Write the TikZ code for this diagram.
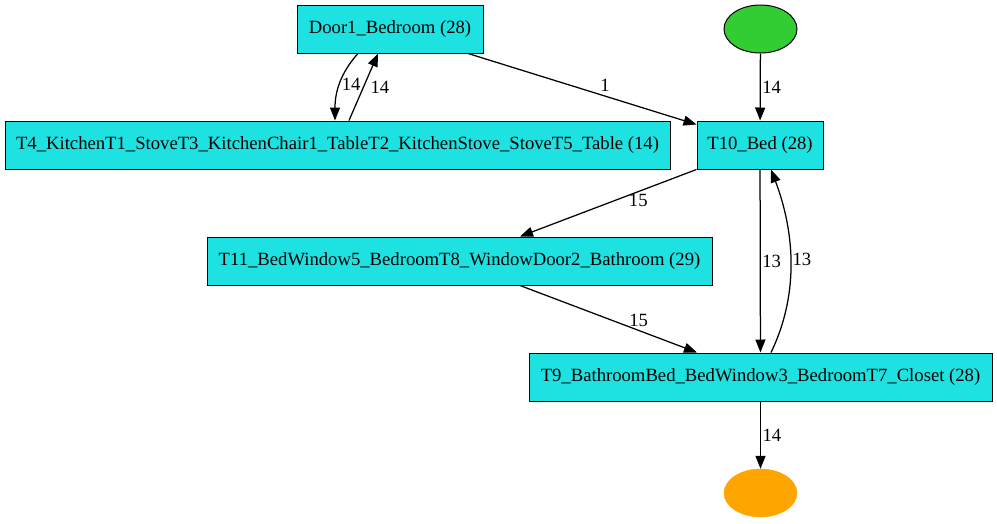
\documentclass[tikz,border=0pt]{standalone}
\usepackage{fontspec}
\setmainfont{Liberation Serif}
\usetikzlibrary{arrows.meta,positioning,shapes.geometric}
\definecolor{stateCyan}{RGB}{30,226,226}
\definecolor{startGreen}{RGB}{50,205,50}
\definecolor{endOrange}{RGB}{255,165,0}
\tikzset{
  state/.style={draw=black, fill=stateCyan, line width=1pt, minimum height=48pt,
                inner sep=0pt, font=\fontsize{18.67}{21}\selectfont},
  terminal/.style={ellipse, minimum width=73pt, minimum height=48pt, inner sep=0pt},
  edge/.style={-{Triangle[length=13pt, width=10pt]}, line width=1.25pt},
  lbl/.style={font=\fontsize{18.67}{21}\selectfont, inner sep=1.5pt}
}
\begin{document}
\begin{tikzpicture}[x=1pt, y=-1pt]
\useasboundingbox (0,0) rectangle (997,523);
% states
\node[state, minimum width=186pt] (door) at (390,29) {Door1\_Bedroom (28)};
\node[state, minimum width=665pt] (kitchen) at (337.5,145)
  {T4\_KitchenT1\_StoveT3\_KitchenChair1\_TableT2\_KitchenStove\_StoveT5\_Table (14)};
\node[state, minimum width=126pt] (bed) at (760,145) {T10\_Bed (28)};
\node[state, minimum width=505pt] (window) at (459.5,261)
  {T11\_BedWindow5\_BedroomT8\_WindowDoor2\_Bathroom (29)};
\node[state, minimum width=463pt] (closet) at (760.5,377)
  {T9\_BathroomBed\_BedWindow3\_BedroomT7\_Closet (28)};
% start and end
\node[terminal, draw=black, line width=1pt, fill=startGreen] (start) at (760.5,29) {};
\node[terminal, draw=endOrange, fill=endOrange] (finish) at (760.5,493) {};
% transitions
\draw[edge] ([xshift=-32pt]door.south) .. controls +(-18,20) and +(0,-28) ..
  node[lbl, right, pos=0.5] {14} ([xshift=-2.5pt]kitchen.north);
\draw[edge] ([xshift=11.5pt]kitchen.north) -- node[lbl, right, pos=0.5, xshift=5pt] {14}
  ([xshift=-12pt]door.south);
\draw[edge] ([xshift=78pt]door.south) -- node[lbl, above, pos=0.6, yshift=2pt] {1}
  ([yshift=-4pt]bed.north west);
\draw[edge] (start) -- node[lbl, right] {14} (bed);
\draw[edge] (bed.south west) -- node[lbl, below, pos=0.33] {15}
  ([xshift=60.5pt]window.north);
\draw[edge] ([xshift=60.5pt]window.south) -- node[lbl, above, pos=0.67, yshift=2pt] {15}
  ([xshift=-63.5pt]closet.north);
\draw[edge] (bed) -- node[lbl, right] {13} (closet);
\draw[edge] ([xshift=10.5pt]closet.north) .. controls +(30,-62) and +(22,58) ..
  node[lbl, right, pos=0.5] {13} ([xshift=11pt]bed.south);
\draw[edge] (closet) -- node[lbl, right] {14} (finish);
\end{tikzpicture}
\end{document}
